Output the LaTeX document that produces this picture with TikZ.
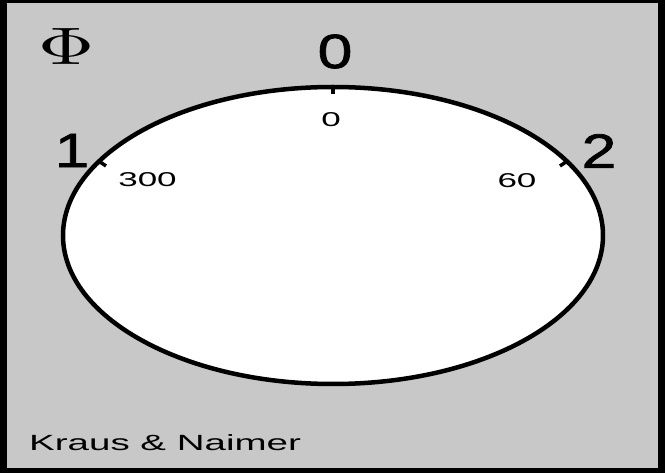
\documentclass[tikz,border=0pt]{standalone}
\usepackage{fontspec}
\newfontfamily\widesans[FakeStretch=1.75]{Liberation Sans}
\newfontfamily\bigsans[FakeStretch=1.3,FakeBold=1.6]{Liberation Sans}
\definecolor{panelgray}{RGB}{200,200,200}
\tikzset{
  biglabel/.style={inner sep=0pt, font=\bigsans\fontsize{48}{48}\selectfont},
  smalllabel/.style={inner sep=0pt, font=\widesans\fontsize{20}{20}\selectfont},
  brand/.style={inner sep=0pt, anchor=base west, font=\widesans\fontsize{22}{22}\selectfont},
  tick/.style={line width=3.5pt}
}
\begin{document}
\begin{tikzpicture}[x=1pt,y=-1pt]
\useasboundingbox (0,0) rectangle (665,473);
% frame
\fill[black] (0,0) rectangle (665,473);
\fill[panelgray] (7,3) rectangle (658,468);
% dial
\draw[line width=4.5pt, fill=white] (333,235.5) ellipse [x radius=270pt, y radius=148.5pt];
% ticks
\coordinate (t0a) at (333,86);
\coordinate (t0b) at (333,94);
\coordinate (t1a) at (98,160.5);
\coordinate (t1b) at (106,166);
\coordinate (t2a) at (568,160.5);
\coordinate (t2b) at (560,166);
\draw[tick] (t0a) -- (t0b);
\draw[tick] (t1a) -- (t1b);
\draw[tick] (t2a) -- (t2b);
% labels
\node[inner sep=0pt] (phi) at (66.5,46) {\resizebox{56pt}{36pt}{$\Phi$}};
\node[biglabel] (big0) at (335,51.5) {0};
\node[biglabel] (big1) at (72,150.5) {1};
\node[biglabel] (big2) at (599,151) {2};
\node[smalllabel] (s0) at (331,120) {0};
\node[smalllabel] (s300) at (147.5,179.5) {300};
\node[smalllabel] (s60) at (517,181) {60};
\node[brand] (maker) at (29,450) {Kraus \& Naimer};
\end{tikzpicture}
\end{document}
